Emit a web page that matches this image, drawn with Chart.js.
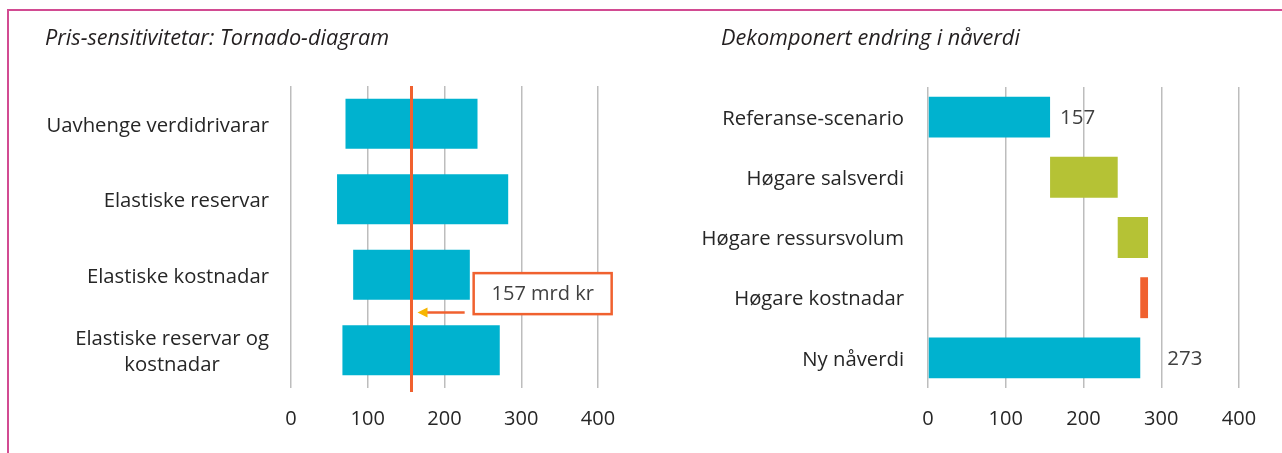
<!DOCTYPE html>
<html>
<head>
<meta charset="utf-8">
<script src="https://cdn.jsdelivr.net/npm/chart.js@4.4.1/dist/chart.umd.min.js"></script>
<style>
  body { margin: 0; background: #fff; }
  #page { position: relative; width: 1282px; height: 453px; overflow: hidden; font-family: "Open Sans", Lato, sans-serif; }
  #frame { position: absolute; left: 7px; top: 9px; width: 1300px; height: 500px; border-top: 2px solid #d24b92; border-left: 2px solid #d24b92; }
  .title { position: absolute; top: 22px; font-style: italic; font-size: 21.7px; color: #231f20; white-space: nowrap; }
  .wrap { position: absolute; top: 0; height: 453px; }
</style>
</head>
<body>
<div id="page">
  <div class="wrap" style="left:0;width:640px"><canvas id="tornado"></canvas></div>
  <div class="wrap" style="left:640px;width:642px"><canvas id="waterfall"></canvas></div>
  <div class="title" style="left:45px">Pris-sensitivitetar: Tornado-diagram</div>
  <div class="title" style="left:721px">Dekomponert endring i nåverdi</div>
  <div id="frame"></div>
</div>
<script>
// tornado data (mrd kr)
const tornadoLabels = [
  ['Uavhenge verdidrivarar'],
  ['Elastiske reservar'],
  ['Elastiske kostnadar'],
  ['Elastiske reservar og', 'kostnadar']
];
const tornadoLow = [71, 60, 81, 67];
const tornadoHigh = [243, 283, 233, 272];
const refValue = 157;
const refText = '157 mrd kr';

// waterfall data
const waterfallLabels = ['Referanse-scenario', 'Høgare salsverdi', 'Høgare ressursvolum', 'Høgare kostnadar', 'Ny nåverdi'];
const waterfallStart = [0, 157, 244, 273, 0];
const waterfallEnd = [157, 244, 283, 283, 273];
const waterfallValueLabels = ['157', '', '', '', '273'];

const xTicks = [0, 100, 200, 300, 400];

const TEAL = '#00b2cf';
const OLIVE = '#b5c235';
const ORANGE = '#f0612f';
const TEXT = '#262626';
const GRID = '#bdbdbd';
const FONT = '"Open Sans", Lato, sans-serif';

const waterfallColors = [TEAL, OLIVE, OLIVE, ORANGE, TEAL];

// draws the category labels right aligned, multi-line blocks centred (like Excel)
const categoryLabels = {
  id: 'categoryLabels',
  afterDraw(chart, args, opts) {
    const ctx = chart.ctx;
    const yScale = chart.scales.y;
    const right = chart.chartArea.left - opts.gap;
    ctx.save();
    ctx.font = '20.3px ' + FONT;
    ctx.fillStyle = TEXT;
    ctx.textBaseline = 'middle';
    ctx.textAlign = 'center';
    chart.data.labels.forEach((lbl, i) => {
      const lines = Array.isArray(lbl) ? lbl : [lbl];
      const w = Math.max(...lines.map(l => ctx.measureText(l).width));
      const cx = right - w / 2;
      const cy = yScale.getPixelForValue(i) + 2;
      const lh = 26;
      lines.forEach((l, k) => {
        ctx.fillText(l, cx, cy + (k - (lines.length - 1) / 2) * lh);
      });
    });
    ctx.restore();
  }
};

const refLine = {
  id: 'refLine',
  afterDatasetsDraw(chart) {
    const ctx = chart.ctx;
    const x = chart.scales.x.getPixelForValue(refValue);
    const yS = chart.scales.y;
    const area = chart.chartArea;
    ctx.save();
    ctx.strokeStyle = ORANGE;
    ctx.lineWidth = 3;
    ctx.beginPath();
    ctx.moveTo(x, area.top);
    ctx.lineTo(x, area.bottom + 4);
    ctx.stroke();

    // callout box
    const bx = chart.scales.x.getPixelForValue(238);
    const bw = 138, bh = 41;
    const by = yS.getPixelForValue(2.25) - bh / 2;
    ctx.fillStyle = '#fff';
    ctx.fillRect(bx, by, bw, bh);
    ctx.lineWidth = 2.5;
    ctx.strokeRect(bx, by, bw, bh);
    ctx.fillStyle = '#404040';
    ctx.font = '20px ' + FONT;
    ctx.textAlign = 'center';
    ctx.textBaseline = 'middle';
    ctx.fillText(refText, bx + bw / 2, by + bh / 2 + 1);

    // arrow
    const ay = yS.getPixelForValue(2.5);
    const tip = x + 6;
    ctx.strokeStyle = ORANGE;
    ctx.lineWidth = 2.5;
    ctx.beginPath();
    ctx.moveTo(bx - 9, ay);
    ctx.lineTo(tip + 8, ay);
    ctx.stroke();
    ctx.fillStyle = '#f7b500';
    ctx.beginPath();
    ctx.moveTo(tip, ay);
    ctx.lineTo(tip + 10, ay - 5);
    ctx.lineTo(tip + 10, ay + 5);
    ctx.closePath();
    ctx.fill();
    ctx.restore();
  }
};

const valueLabels = {
  id: 'valueLabels',
  afterDatasetsDraw(chart) {
    const ctx = chart.ctx;
    const meta = chart.getDatasetMeta(0);
    const offsets = [10, 0, 0, 0, 27];
    ctx.save();
    ctx.font = '20.5px ' + FONT;
    ctx.fillStyle = '#404040';
    ctx.textBaseline = 'middle';
    ctx.textAlign = 'left';
    meta.data.forEach((bar, i) => {
      if (!waterfallValueLabels[i]) return;
      const xEnd = chart.scales.x.getPixelForValue(waterfallEnd[i]);
      ctx.fillText(waterfallValueLabels[i], xEnd + offsets[i], bar.y + 1);
    });
    ctx.restore();
  }
};

function xAxis() {
  return {
    type: 'linear',
    min: 0,
    max: 400,
    afterBuildTicks: s => { s.ticks = xTicks.map(v => ({ value: v })); },
    afterFit: s => { s.height = 50; },
    grid: { color: GRID, lineWidth: 1.5, drawTicks: false },
    border: { display: false },
    ticks: { color: TEXT, padding: 19, font: { family: FONT, size: 20 } }
  };
}

function baseOptions(padding, barPct, gap) {
  return {
    indexAxis: 'y',
    responsive: true,
    maintainAspectRatio: false,
    animation: false,
    layout: { padding: padding },
    plugins: {
      legend: { display: false },
      tooltip: { enabled: false },
      categoryLabels: { gap: gap }
    },
    datasets: { bar: { categoryPercentage: 1, barPercentage: barPct } },
    scales: {
      x: xAxis(),
      y: { type: 'category', display: false }
    }
  };
}

new Chart(document.getElementById('tornado'), {
  type: 'bar',
  data: {
    labels: tornadoLabels,
    datasets: [{
      data: tornadoLow.map((v, i) => [v, tornadoHigh[i]]),
      backgroundColor: TEAL,
      borderWidth: 0
    }]
  },
  options: baseOptions({ left: 291, right: 42, top: 86, bottom: 15 }, 0.66, 22),
  plugins: [categoryLabels, refLine]
});

new Chart(document.getElementById('waterfall'), {
  type: 'bar',
  data: {
    labels: waterfallLabels,
    datasets: [{
      data: waterfallStart.map((v, i) => [v, waterfallEnd[i]]),
      backgroundColor: waterfallColors,
      borderWidth: 0
    }]
  },
  options: baseOptions({ left: 288, right: 43, top: 87, bottom: 15 }, 0.68, 24),
  plugins: [categoryLabels, valueLabels]
});
</script>
</body>
</html>
